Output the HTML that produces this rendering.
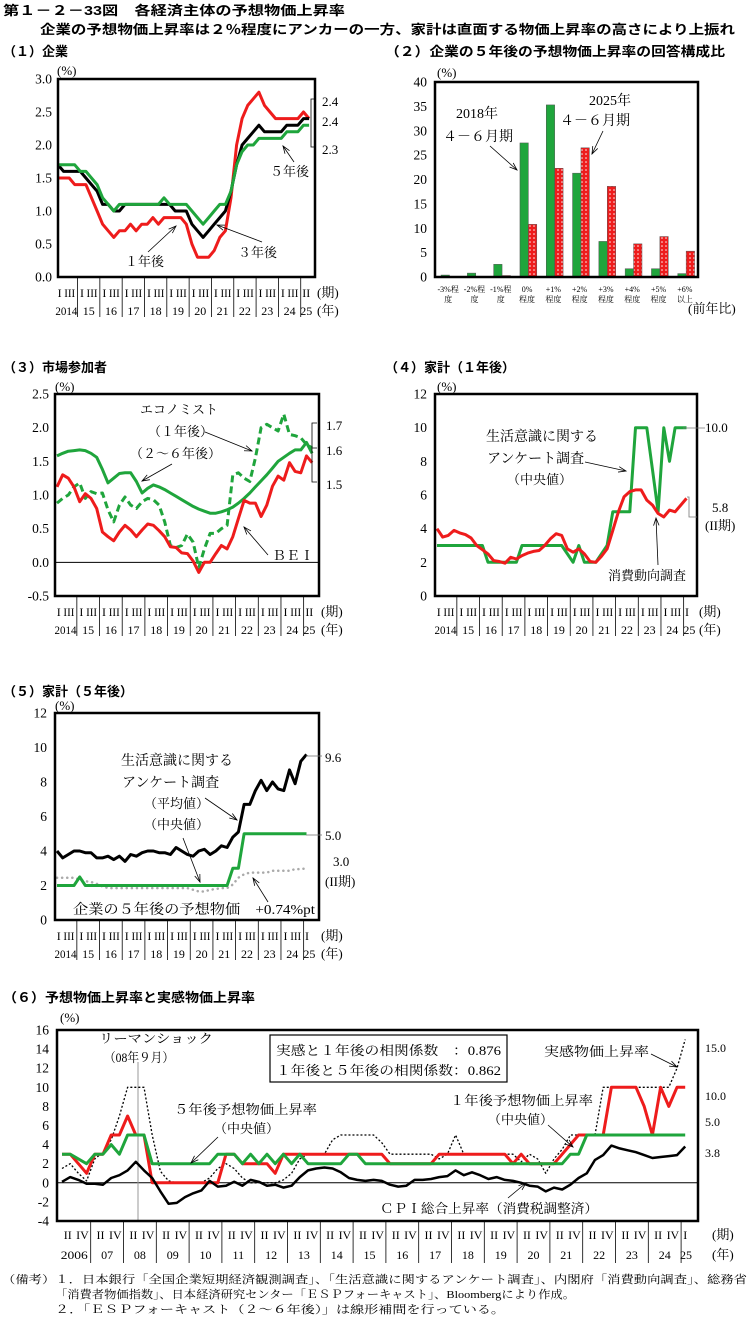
<!DOCTYPE html>
<html><head><meta charset="utf-8">
<style>
html,body{margin:0;padding:0;background:#fff;}
svg{display:block;}
text{font-family:"Liberation Serif","Noto Serif CJK SC",serif;fill:#000;}
.b{font-family:"Liberation Sans","Noto Sans CJK JP",sans-serif;font-weight:bold;}
</style></head>
<body>
<svg id="chart" width="749" height="1319" viewBox="0 0 749 1319" xmlns="http://www.w3.org/2000/svg">
<defs>
<pattern id="dots" width="4" height="4" patternUnits="userSpaceOnUse"><rect width="4" height="4" fill="#ee1c1c"/><circle cx="2" cy="2" r="0.75" fill="#fff"/></pattern>
</defs>
</svg>
<script>
// ---------- Panel 1 data (quarterly 2014Q1-2025Q2) ----------
const p1Ticks=[0,0.5,1.0,1.5,2.0,2.5,3.0];
const p1Red=[1.5,1.5,1.5,1.4,1.4,1.4,1.2,1.0,0.8,0.7,0.6,0.7,0.7,0.8,0.7,0.8,0.8,0.9,0.8,0.9,0.9,0.9,0.9,0.8,0.5,0.3,0.3,0.3,0.4,0.6,0.7,1.2,2.0,2.4,2.6,2.7,2.8,2.6,2.5,2.4,2.4,2.4,2.4,2.4,2.5,2.4];
const p1Black=[1.7,1.6,1.6,1.6,1.6,1.5,1.4,1.3,1.1,1.1,1.0,1.0,1.1,1.1,1.1,1.1,1.1,1.1,1.1,1.1,1.1,1.0,1.0,1.0,0.8,0.7,0.6,0.7,0.8,0.9,1.0,1.3,1.7,2.0,2.1,2.2,2.3,2.2,2.2,2.2,2.2,2.3,2.3,2.3,2.4,2.4];
const p1Green=[1.7,1.7,1.7,1.7,1.6,1.6,1.5,1.4,1.2,1.1,1.0,1.1,1.1,1.1,1.1,1.1,1.1,1.1,1.1,1.2,1.1,1.1,1.1,1.1,1.0,0.9,0.8,0.9,1.0,1.1,1.1,1.3,1.7,1.9,2.0,2.0,2.1,2.1,2.1,2.1,2.1,2.2,2.2,2.2,2.3,2.3];
// ---------- Panel 2 data ----------
const p2Ticks=[0,5,10,15,20,25,30,35,40];
const p2CatTop=["-3%程","-2%程","-1%程","0%","+1%","+2%","+3%","+4%","+5%","+6%"];
const p2CatBot=["度","度","度","程度","程度","程度","程度","程度","程度","以上"];
const p2Y2018=[0.4,0.8,2.6,27.5,35.3,21.3,7.3,1.7,1.7,0.7];
const p2Y2025=[0.1,0.1,0.3,10.8,22.3,26.5,18.6,6.8,8.3,5.3];
// ---------- Panel 3 data ----------
const p3Ticks=[-0.5,0.0,0.5,1.0,1.5,2.0,2.5];
const p3Long=[1.58,1.62,1.65,1.66,1.67,1.66,1.62,1.56,1.38,1.18,1.25,1.32,1.33,1.33,1.20,1.03,1.10,1.15,1.12,1.08,1.03,0.98,0.93,0.88,0.83,0.79,0.76,0.73,0.73,0.75,0.78,0.82,0.88,0.95,1.03,1.12,1.21,1.30,1.40,1.50,1.56,1.62,1.67,1.67,1.78,1.62];
const p3Econ=[0.88,0.95,1.00,1.12,1.18,0.95,1.05,1.02,1.03,0.78,0.60,0.85,0.97,0.85,0.80,0.90,0.95,0.93,0.85,0.60,0.25,0.22,0.25,0.42,0.30,-0.08,0.20,0.43,0.43,0.50,0.55,1.30,1.33,1.25,1.20,1.55,2.00,2.05,2.00,1.95,2.20,1.90,1.88,1.85,1.75,1.70];
const p3Bei=[1.12,1.30,1.25,1.12,0.90,1.02,0.95,0.80,0.45,0.38,0.32,0.45,0.55,0.48,0.38,0.48,0.57,0.55,0.47,0.38,0.23,0.22,0.14,0.13,0.02,-0.15,0.00,0.00,0.13,0.25,0.20,0.38,0.65,0.92,0.88,0.88,0.68,0.85,1.13,1.28,1.22,1.48,1.35,1.33,1.58,1.48];
// ---------- Panel 4 data (2014Q1-2025Q1) ----------
const p4Ticks=[0,2,4,6,8,10,12];
const p4Survey=[3,3,3,3,3,3,3,3,3,2,2,2,2,2,2,3,3,3,3,3,3,3,3,2.5,2,3,2,2,2,2.5,3,5,5,5,5,10,10,10,7.5,5,10,8,10,10,10];
const p4Consumer=[4.0,3.5,3.6,3.9,3.75,3.65,3.45,3.0,2.75,2.5,2.1,2.05,1.95,2.3,2.2,2.4,2.55,2.65,2.7,3.0,3.4,3.7,3.6,2.8,2.6,2.8,2.5,2.05,2.0,2.35,2.8,3.9,5.0,5.9,6.2,6.3,6.3,5.7,5.4,4.9,4.7,5.1,5.0,5.4,5.8];
// ---------- Panel 5 data ----------
const p5Ticks=[0,2,4,6,8,10,12];
const p5Mean=[4.0,3.6,3.8,4.0,4.0,3.9,3.9,3.6,3.6,3.7,3.5,3.7,3.4,3.8,3.7,3.9,4.0,4.0,3.9,3.9,3.8,4.2,4.0,3.8,3.7,4.0,4.1,3.8,4.0,4.3,4.2,4.8,5.1,6.7,6.7,7.5,8.1,7.5,8.0,7.6,7.5,8.7,7.9,9.2,9.6];
const p5Median=[2,2,2,2,2.5,2,2,2,2,2,2,2,2,2,2,2,2,2,2,2,2,2,2,2,2,2,2,2,2,2,2,3,3,5,5,5,5,5,5,5,5,5,5,5,5];
const p5Firm=[2.45,2.45,2.45,2.45,2.35,2.25,2.2,2.1,1.95,1.85,1.85,1.85,1.85,1.85,1.85,1.85,1.85,1.85,1.85,1.85,1.85,1.85,1.85,1.85,1.75,1.65,1.65,1.75,1.8,1.85,1.85,2.05,2.45,2.65,2.75,2.75,2.75,2.75,2.85,2.85,2.85,2.85,2.95,2.95,3.0];
// ---------- Panel 6 data (quarterly 2006Q1-2025Q1) ----------
const p6Ticks=[-4,-2,0,2,4,6,8,10,12,14,16];
const p6Years=["2006","07","08","09","10","11","12","13","14","15","16","17","18","19","20","21","22","23","24","25"];
const p6Perceived=[1.5,2.0,1.0,0.2, 2.5,3.2,4.5,7, 10,10,10,5, 1.2,0.2,0,0, 0,0,0.5,1.5, 2.0,1.5,0.5,0, 0,0,0,0.3, 1,2.5,3,3, 3,4.5,5,5, 5,5,5,4.2, 3,3,3,3, 3,3,2.5,3, 5,3,3,3, 3,3,3,3, 2.2,3,2.5,1, 2.5,3.5,5,5, 5,5,10,10, 10,10,10,10, 10,10,10,12, 15];
const p6OneYear=[3,3,2,1, 3,3,5,5, 7,5,5,0, 0,0,0,0, 0,0,0,0, 3,3,2,2, 2,2,1,3, 3,3,3,3, 3,3,3,3, 3,3,3,3, 2,2,2,2, 2,2,3,3, 3,3,3,3, 3,3,3,2, 3,2,2,2, 2,3,4,5, 5,5,5,10, 10,10,10,8, 5,10,8,10, 10];
const p6FiveYear=[3,3,2.5,2, 3,3,4,3, 5,5,5,2, 2,2,2,2, 2,2,2,3, 3,3,2,3, 2,3,2,3, 2,3,2,2, 2,2,2,3, 3,2,2,2, 2,2,2,2, 2,2,2,2, 2,2,2,2, 2,2,2,2, 2,2,2,2, 2,2,3,3, 5,5,5,5, 5,5,5,5, 5,5,5,5, 5];
const p6Cpi=[0.1,0.6,0.3,-0.1, -0.1,-0.2,0.5,0.8, 1.3,2.2,1.3,0.5, -0.9,-2.2,-2.1,-1.5, -1.1,-0.8,0.2,-0.4, -0.3,0.1,-0.3,0.3, 0.1,-0.3,-0.2,-0.5, -0.3,0.6,1.3,1.5, 1.6,1.5,1.1,0.5, 0.3,0.2,0.3,0.2, -0.2,-0.4,-0.3,0.3, 0.3,0.4,0.6,0.7, 1.3,0.8,1.1,0.8, 0.4,0.6,0.3,0.2, 0.0,-0.3,-0.4,-0.9, -0.5,-0.7,-0.2,0.5, 1.0,2.4,2.9,3.9, 3.6,3.4,3.2,2.9, 2.6,2.7,2.8,2.9, 3.8];

const NS='http://www.w3.org/2000/svg';
const svg=document.getElementById('chart');
const RED='#ee1c1c', GREEN='#1fa53c';
function el(tag,attrs){const e=document.createElementNS(NS,tag);for(const k in attrs)e.setAttribute(k,attrs[k]);svg.appendChild(e);return e;}
function T(x,y,s,size,name,anchor,fit,cls){
  const e=el('text',{x:x,y:y,'font-size':size,'text-anchor':anchor||'start'});
  if(fit){e.setAttribute('textLength',fit);e.setAttribute('lengthAdjust','spacingAndGlyphs');}
  if(cls)e.setAttribute('class',cls);
  e.textContent=s;
  
  
  return e;
}
function L(x1,y1,x2,y2,w,c,name,dash){
  const e=el('line',{x1:x1,y1:y1,x2:x2,y2:y2,stroke:c||'#000','stroke-width':w||1});
  if(dash)e.setAttribute('stroke-dasharray',dash);
  
  
  return e;
}
function arrow(x1,y1,x2,y2,name){
  L(x1,y1,x2,y2,0.8,'#000',name);
  const a=Math.atan2(y2-y1,x2-x1),h=8;
  const p=el('path',{d:`M${x2-h*Math.cos(a-0.35)},${y2-h*Math.sin(a-0.35)} L${x2},${y2} L${x2-h*Math.cos(a+0.35)},${y2-h*Math.sin(a+0.35)}`,fill:'none',stroke:'#000','stroke-width':0.8});
  
  
}
function yS(P,v){return P.B-(v-P.min)/(P.max-P.min)*(P.B-P.T);}
function xS(P,i){return P.x0+i*P.step;}
function series(P,vals,color,w,name,dash,cap){
  let d='';vals.forEach((v,i)=>{d+=(i?'L':'M')+xS(P,i).toFixed(1)+','+yS(P,v).toFixed(1);});
  const p=el('path',{d:d,fill:'none',stroke:color,'stroke-width':w,'stroke-linejoin':'round'});
  if(dash)p.setAttribute('stroke-dasharray',dash);
  if(cap)p.setAttribute('stroke-linecap',cap);
  
  
}
function box(P,name){
  const r=el('rect',{x:P.L,y:P.T,width:P.R-P.L,height:P.B-P.T,fill:'none',stroke:'#000','stroke-width':2.5});
  
  
}
function yTicks(P,ticks,dec,name,xoff){
  ticks.forEach(v=>{T(P.L-(xoff||6),yS(P,v)+4.5,dec?v.toFixed(1):String(v),13.5,name,'end');});
}
function qAxis(P,lastLabel,name){
  const years=["2014","15","16","17","18","19","20","21","22","23","24","25"];
  const yw=4*P.step;
  years.forEach((y,k)=>{
    const bx=P.x0-P.step*0.5+k*yw;
    if(k>0)L(bx,P.B,bx,P.B+40,0.8,'#000',name+'-year-separator');
    const last=(k===years.length-1);
    if(!last){T(bx+yw*0.2,P.B+20,'I',12,name+'-quarter-label','middle');T(bx+yw*0.65,P.B+20,'III',12,name+'-quarter-label','middle',11);}
    else T(bx+P.step*(lastLabel==='II'?1:0.6),P.B+20,lastLabel,12,name+'-quarter-label','middle');
    T(last?bx+P.step:bx+yw/2,P.B+38,y,12,name+'-year-label','middle',k===0?22:null);
  });
  T(P.R+2,P.B+20,'(期)',13,name+'-period-unit');
  T(P.R+2,P.B+38,'(年)',13,name+'-year-unit');
}

// ---------- Titles ----------
T(3,15,'第１－２－33図　各経済主体の予想物価上昇率',13,'figure-title','start',342,'b');
T(40,34,'企業の予想物価上昇率は２％程度にアンカーの一方、家計は直面する物価上昇率の高さにより上振れ',13,'figure-subtitle','start',695,'b');

// ---------- Panel 1 ----------
const P1={L:58,R:315,T:79,B:277,min:0,max:3,x0:58,step:5.58};
T(3,56,'（１）企業',13,'panel1-title','start',null,'b');
T(57,75,'(%)',13,'panel1-y-unit');
yTicks(P1,p1Ticks,true,'panel1-y-tick');
series(P1,p1Red,RED,3,'panel1-line-1year');
series(P1,p1Black,'#000',3,'panel1-line-3year');
series(P1,p1Green,GREEN,3,'panel1-line-5year');
box(P1,'panel1-plot-frame');
qAxis(P1,'II','panel1-x');
el('path',{d:'M315,99 H311 V147 H315',fill:'none',stroke:'#000','stroke-width':0.8});
T(322,106,'2.4',13,'panel1-end-label-1year');
T(322,126,'2.4',13,'panel1-end-label-3year');
T(322,154,'2.3',13,'panel1-end-label-5year');
T(125,266,'１年後',13,'panel1-label-1year');
arrow(148,252,176,226,'panel1-arrow-1year');
T(238,257,'３年後',13,'panel1-label-3year');
arrow(262,242,217,225,'panel1-arrow-3year');
T(270,176,'５年後',13,'panel1-label-5year');
arrow(294,162,283,146,'panel1-arrow-5year');

// ---------- Panel 2 ----------
const P2={L:435,R:698,T:82,B:277,min:0,max:40};
T(385,56,'（２）企業の５年後の予想物価上昇率の回答構成比',13,'panel2-title','start',340,'b');
T(437,77,'(%)',13,'panel2-y-unit');
yTicks(P2,p2Ticks,false,'panel2-y-tick',8);
const cw=(P2.R-P2.L)/p2CatTop.length;
p2CatTop.forEach((c,i)=>{
  const gx=P2.L+i*cw;
  const g=el('rect',{x:gx+0.23*cw,y:yS(P2,p2Y2018[i]),width:0.32*cw,height:P2.B-yS(P2,p2Y2018[i]),fill:GREEN,stroke:'#555','stroke-width':0.5});
  
  
  const r=el('rect',{x:gx+0.55*cw,y:yS(P2,p2Y2025[i]),width:0.32*cw,height:P2.B-yS(P2,p2Y2025[i]),fill:'url(#dots)',stroke:'#555','stroke-width':0.5});
  
  
  T(gx+cw/2,292,c,8,'panel2-category-label','middle');
  T(gx+cw/2,302,p2CatBot[i],8,'panel2-category-label','middle');
});
box(P2,'panel2-plot-frame');
T(688,313,'(前年比)',13,'panel2-x-unit');
T(456,118,'2018年',14,'panel2-label-2018');
T(443,141,'４－６月期',14,'panel2-label-2018-period');
arrow(490,146,517,170,'panel2-arrow-2018');
T(610,105,'2025年',14,'panel2-label-2025','middle');
T(595,125,'４－６月期',14,'panel2-label-2025-period','middle');
arrow(603,131,592,154,'panel2-arrow-2025');

// ---------- Panel 3 ----------
const P3={L:55,R:319,T:394,B:596,min:-0.5,max:2.5,x0:57,step:5.67};
T(3,372,'（３）市場参加者',13,'panel3-title','start',null,'b');
T(55,391,'(%)',13,'panel3-y-unit');
yTicks(P3,p3Ticks,true,'panel3-y-tick');
L(P3.L,yS(P3,0),P3.R,yS(P3,0),1,'#000','panel3-zero-line');
series(P3,p3Long,GREEN,3,'panel3-line-economist-2to6');
series(P3,p3Econ,GREEN,3,'panel3-line-economist-1year','7,4');
series(P3,p3Bei,RED,3,'panel3-line-bei');
box(P3,'panel3-plot-frame');
qAxis(P3,'II','panel3-x');
el('path',{d:'M317,423 H312 V482 H317 M312,448 H317',fill:'none',stroke:'#000','stroke-width':0.8});
T(326,430,'1.7',13,'panel3-end-label-1year');
T(326,455,'1.6',13,'panel3-end-label-2to6');
T(326,489,'1.5',13,'panel3-end-label-bei');
T(140,414,'エコノミスト',13,'panel3-label-economist');
T(148,436,'（１年後）',13,'panel3-label-1year');
arrow(205,432,252,451,'panel3-arrow-1year');
T(130,458,'（２～６年後）',13,'panel3-label-2to6');
arrow(172,464,142,481,'panel3-arrow-2to6');
T(272,560,'ＢＥＩ',13,'panel3-label-bei','start',42);
arrow(268,555,244,527,'panel3-arrow-bei');

// ---------- Panel 4 ----------
const P4={L:435,R:697,T:394,B:596,min:0,max:12,x0:437,step:5.67};
T(385,372,'（４）家計（１年後）',13,'panel4-title','start',null,'b');
T(437,391,'(%)',13,'panel4-y-unit');
yTicks(P4,p4Ticks,false,'panel4-y-tick',8);
series(P4,p4Survey,GREEN,3,'panel4-line-survey-median');
series(P4,p4Consumer,RED,3,'panel4-line-consumer-survey');
box(P4,'panel4-plot-frame');
qAxis(P4,'I','panel4-x');
L(683,428,705,428,0.8,'#777','panel4-leader-survey');
el('path',{d:'M687,497 H689 V517 H697',fill:'none',stroke:'#777','stroke-width':0.8});
T(705,432,'10.0',13,'panel4-end-label-survey');
T(712,512,'5.8',13,'panel4-end-label-consumer');
T(705,530,'(II期)',13,'panel4-end-label-period');
T(486,441,'生活意識に関する',14,'panel4-label-survey');
T(487,463,'アンケート調査',14,'panel4-label-survey-2');
T(507,484,'（中央値）',13,'panel4-label-median');
arrow(585,462,626,471,'panel4-arrow-survey');
T(608,580,'消費動向調査',13,'panel4-label-consumer');
arrow(658,565,656,518,'panel4-arrow-consumer');

// ---------- Panel 5 ----------
const P5={L:55,R:319,T:713,B:920,min:0,max:12,x0:57,step:5.67};
T(3,696,'（５）家計（５年後）',13,'panel5-title','start',null,'b');
T(55,710,'(%)',13,'panel5-y-unit');
yTicks(P5,p5Ticks,false,'panel5-y-tick',8);
series(P5,p5Firm,'#aaa',2.5,'panel5-line-firm-plus','0.1,5','round');
series(P5,p5Median,GREEN,3,'panel5-line-survey-median');
series(P5,p5Mean,'#000',3,'panel5-line-survey-mean');
box(P5,'panel5-plot-frame');
qAxis(P5,'I','panel5-x');
L(306,756,322,756,0.8,'#777','panel5-leader-mean');
L(306,835,322,835,0.8,'#777','panel5-leader-median');
T(325,762,'9.6',13,'panel5-end-label-mean');
T(325,840,'5.0',13,'panel5-end-label-median');
T(333,866,'3.0',13,'panel5-end-label-firm');
T(325,886,'(II期)',13,'panel5-end-label-period');
T(121,765,'生活意識に関する',14,'panel5-label-survey');
T(122,787,'アンケート調査',14,'panel5-label-survey-2');
T(144,808,'（平均値）',13,'panel5-label-mean');
T(144,829,'（中央値）',13,'panel5-label-median');
arrow(205,798,237,820,'panel5-arrow-mean');
arrow(183,838,200,882,'panel5-arrow-median');
T(73,914,'企業の５年後の予想物価　+0.74%pt',14,'panel5-label-firm','start',242);
arrow(268,902,253,878,'panel5-arrow-firm');

// ---------- Panel 6 ----------
const P6={L:57,R:698,T:1030,B:1221,min:-4,max:16,x0:62,step:8.2};
T(3,1002,'（６）予想物価上昇率と実感物価上昇率',13,'panel6-title','start',252,'b');
T(60,1022,'(%)',13,'panel6-y-unit');
yTicks(P6,p6Ticks,false,'panel6-y-tick',8);
L(P6.L,yS(P6,0),P6.R,yS(P6,0),1,'#000','panel6-zero-line');
L(138,1062,138,1221,1,'#999','lehman-marker-line');
series(P6,p6Perceived,'#000',1.3,'panel6-line-perceived','2,2');
series(P6,p6OneYear,RED,3,'panel6-line-1year');
series(P6,p6FiveYear,GREEN,3,'panel6-line-5year');
series(P6,p6Cpi,'#000',2.5,'panel6-line-cpi');
box(P6,'panel6-plot-frame');
const yw6=4*P6.step;
p6Years.forEach((y,k)=>{
  const bx=P6.x0-P6.step*0.5+k*yw6;
  if(k>0)L(bx,P6.B,bx,P6.B+42,0.8,'#000','panel6-year-separator');
  const last=(k===p6Years.length-1);
  if(!last){T(bx+yw6*0.3,1239,'II',12,'panel6-quarter-label','middle');T(bx+yw6*0.75,1239,'IV',12,'panel6-quarter-label','middle');}
  else T(bx+P6.step*0.5,1239,'I',12,'panel6-quarter-label','middle');
  T(last?bx+P6.step*0.6:bx+yw6/2,1259,y,12,'panel6-year-label','middle',k===0?27:null);
});
T(712,1239,'(期)',13,'panel6-period-unit');
T(712,1259,'(年)',13,'panel6-year-unit');
T(705,1052,'15.0',12,'panel6-end-label-perceived');
T(705,1100,'10.0',12,'panel6-end-label-1year');
T(705,1126,'5.0',12,'panel6-end-label-5year');
T(705,1157,'3.8',12,'panel6-end-label-cpi');
const bx6=el('rect',{x:270,y:1035,width:237,height:47,fill:'#fff',stroke:'#000','stroke-width':1.2});


T(276,1055,'実感と１年後の相関係数　：0.876',13,'correlation-perceived-1year','start',225);
T(276,1075,'１年後と５年後の相関係数：0.862',13,'correlation-1year-5year','start',225);
T(99,1043,'リーマンショック',13,'lehman-label','start',114);
T(104,1062,'（08年９月）',13,'lehman-date-label','start',70);
T(174,1114,'５年後予想物価上昇率',13,'panel6-label-5year','start',143);
T(214,1133,'（中央値）',13,'panel6-label-5year-median');
arrow(218,1137,191,1163,'panel6-arrow-5year');
T(450,1105,'１年後予想物価上昇率',13,'panel6-label-1year','start',143);
T(488,1124,'（中央値）',13,'panel6-label-1year-median');
arrow(548,1125,573,1147,'panel6-arrow-1year');
T(544,1056,'実感物価上昇率',13,'panel6-label-perceived','start',105);
arrow(651,1054,677,1067,'panel6-arrow-perceived');
T(380,1213,'ＣＰＩ総合上昇率（消費税調整済）',13,'panel6-label-cpi','start',218);
arrow(508,1198,526,1183,'panel6-arrow-cpi');

// ---------- Notes ----------
T(2,1283,'（備考）１．日本銀行「全国企業短期経済観測調査」、「生活意識に関するアンケート調査」、内閣府「消費動向調査」、総務省',11,'note-1','start',745);
T(55,1298,'「消費者物価指数」、日本経済研究センター「ＥＳＰフォーキャスト」、Bloombergにより作成。',11,'note-1-cont','start',520);
T(55,1313,'２．「ＥＳＰフォーキャスト（２～６年後）」は線形補間を行っている。',11,'note-2','start',450);
</script>
</body></html>
